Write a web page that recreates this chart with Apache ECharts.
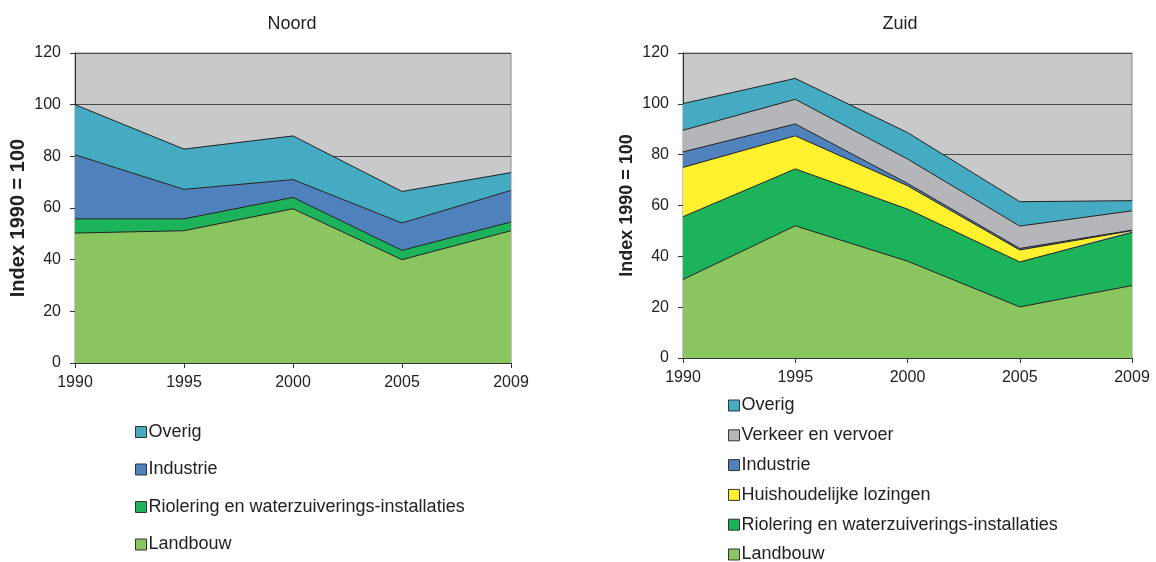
<!DOCTYPE html>
<html>
<head>
<meta charset="utf-8">
<script src="https://cdn.jsdelivr.net/npm/echarts@6/dist/echarts.min.js"></script>
<style>
  html, body { margin: 0; padding: 0; background: #fff; }
  #chart { width: 1156px; height: 562px; }
</style>
</head>
<body>
<div id="chart"></div>
<script>
// jaren op de x-as
const years = ['1990', '1995', '2000', '2005', '2009']

// Noord
const noordLandbouw = [50.3, 51.2, 59.7, 40.0, 51.2]
const noordRiolering = [5.5, 4.6, 4.4, 3.6, 3.4]
const noordIndustrie = [24.8, 11.4, 6.9, 10.6, 12.2]
const noordOverig = [19.4, 15.6, 16.9, 12.2, 6.9]

// Zuid
const zuidLandbouw = [30.9, 52.0, 38.1, 20.1, 28.5]
const zuidRiolering = [24.7, 22.4, 20.5, 17.7, 20.9]
const zuidHuishoudelijk = [19.4, 13.0, 9.2, 4.7, 0.7]
const zuidIndustrie = [6.1, 4.7, 0.9, 0.6, 0.2]
const zuidVerkeer = [8.5, 9.7, 9.6, 8.8, 7.6]
const zuidOverig = [10.5, 8.2, 10.4, 9.6, 4.0]

const colors = {
  'Overig': '#45abc3',
  'Verkeer en vervoer': '#b5b6b9',
  'Industrie': '#4f82bd',
  'Huishoudelijke lozingen': '#fff12e',
  'Riolering en waterzuiverings-installaties': '#1cb35b',
  'Landbouw': '#8bc55f'
}

const font = 'Liberation Sans, Arial, sans-serif'

function area(name, data, idx) {
  return {
    name: name,
    type: 'line',
    stack: 'tot' + idx,
    xAxisIndex: idx,
    yAxisIndex: idx,
    data: data,
    showSymbol: false,
    symbol: 'none',
    itemStyle: { color: colors[name] },
    lineStyle: { color: '#222', width: 1 },
    areaStyle: { color: colors[name], opacity: 1 },
    emphasis: { disabled: true },
    animation: false
  }
}

function legendItems(names) {
  return names.map(n => ({
    name: n,
    icon: 'rect',
    itemStyle: { color: colors[n], borderColor: '#333', borderWidth: 1 }
  }))
}

function xAxis(idx) {
  return {
    type: 'category',
    gridIndex: idx,
    data: years,
    boundaryGap: false,
    axisLine: { lineStyle: { color: '#333' } },
    axisTick: { show: true, length: 5, inside: false, lineStyle: { color: '#333' } },
    axisLabel: { color: '#222', fontSize: 16, fontFamily: font, margin: 12 },
    splitLine: { show: false }
  }
}

function yAxis(idx, nameSize, namePad) {
  return {
    type: 'value',
    gridIndex: idx,
    min: 0,
    max: 120,
    interval: 20,
    name: 'Index 1990 = 100',
    nameLocation: 'middle',
    nameRotate: 90,
    nameGap: 47,
    nameTextStyle: { fontSize: nameSize, fontWeight: 'bold', color: '#222', fontFamily: font, padding: namePad },
    axisLine: { show: true, lineStyle: { color: '#333' } },
    axisTick: { show: true, length: 5, lineStyle: { color: '#333' } },
    axisLabel: { color: '#222', fontSize: 16, fontFamily: font, margin: 14 },
    splitLine: { show: true, lineStyle: { color: '#4a4a4a', width: 1 } }
  }
}

const chart = echarts.init(document.getElementById('chart'), null, { renderer: 'canvas' })

const legendText = { fontSize: 18, lineHeight: 18, color: '#222', fontFamily: font, padding: [0, 0, 0, -3] }

chart.setOption({
  backgroundColor: '#fff',
  animation: false,
  title: [
    { text: 'Noord', left: 287, top: 10, textAlign: 'center', textStyle: { fontSize: 18, fontWeight: 'normal', color: '#222', fontFamily: font } },
    { text: 'Zuid', left: 895, top: 10, textAlign: 'center', textStyle: { fontSize: 18, fontWeight: 'normal', color: '#222', fontFamily: font } }
  ],
  grid: [
    { left: 75, right: 645, top: 53, bottom: 199, show: true, backgroundColor: '#c8c9cb', borderColor: '#8c8c8c', borderWidth: 1 },
    { left: 683, right: 24, top: 53, bottom: 204, show: true, backgroundColor: '#c8c9cb', borderColor: '#8c8c8c', borderWidth: 1 }
  ],
  xAxis: [xAxis(0), xAxis(1)],
  yAxis: [yAxis(0, 20, [0, 20, 0, 0]), yAxis(1, 18, 0)],
  legend: [
    {
      orient: 'vertical',
      left: 135,
      top: 423,
      height: 200,
      padding: 0,
      itemWidth: 11,
      itemHeight: 11,
      itemGap: 19.5,
      selectedMode: false,
      textStyle: legendText,
      data: legendItems(['Overig', 'Industrie', 'Riolering en waterzuiverings-installaties', 'Landbouw'])
    },
    {
      orient: 'vertical',
      left: 728,
      top: 396.5,
      height: 200,
      padding: 0,
      itemWidth: 11,
      itemHeight: 11,
      itemGap: 11.8,
      selectedMode: false,
      textStyle: legendText,
      data: legendItems(['Overig', 'Verkeer en vervoer', 'Industrie', 'Huishoudelijke lozingen', 'Riolering en waterzuiverings-installaties', 'Landbouw'])
    }
  ],
  series: [
    area('Landbouw', noordLandbouw, 0),
    area('Riolering en waterzuiverings-installaties', noordRiolering, 0),
    area('Industrie', noordIndustrie, 0),
    area('Overig', noordOverig, 0),
    area('Landbouw', zuidLandbouw, 1),
    area('Riolering en waterzuiverings-installaties', zuidRiolering, 1),
    area('Huishoudelijke lozingen', zuidHuishoudelijk, 1),
    area('Industrie', zuidIndustrie, 1),
    area('Verkeer en vervoer', zuidVerkeer, 1),
    area('Overig', zuidOverig, 1)
  ]
})

window.addEventListener('resize', () => {
  chart.resize()
})
</script>
</body>
</html>
